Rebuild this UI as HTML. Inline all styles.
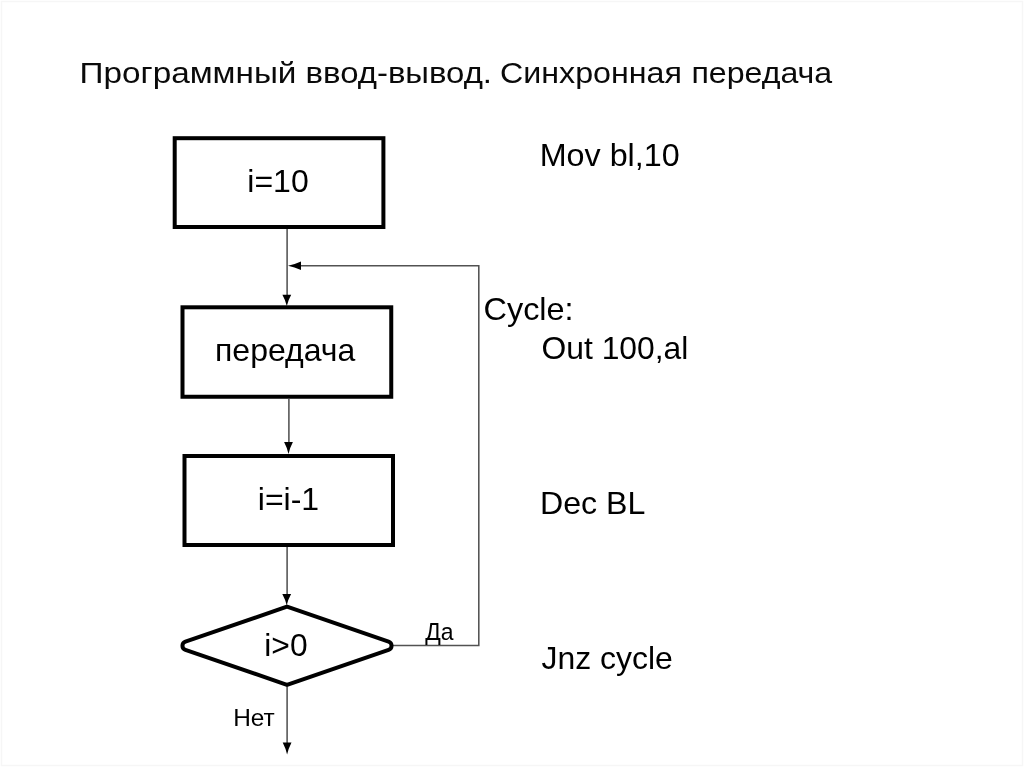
<!DOCTYPE html>
<html lang="ru">
<head>
<meta charset="utf-8">
<title>Программный ввод-вывод. Синхронная передача</title>
<style>
html,body{margin:0;padding:0;background:#fff;}
body{width:1024px;height:767px;overflow:hidden;position:relative;}
svg{position:absolute;left:0;top:0;display:block;will-change:transform;}
text{font-family:"Liberation Sans",sans-serif;fill:#000;}
.title{font-size:30.3px;fill:#0a0a0a;}
.code{font-size:31.4px;}
.lbl{font-size:24px;}
.blk{font-size:32px;}
.box{fill:#fff;stroke:#000;stroke-width:4;}
.thin{fill:none;stroke:#525252;stroke-width:1.55;}
.head{fill:#000;stroke:none;}
</style>
</head>
<body>
<svg width="1024" height="767" viewBox="0 0 1024 767">
  <rect x="0" y="0" width="1024" height="767" fill="#fff"/>
  <rect x="1.5" y="1.5" width="1021" height="764" fill="none" stroke="#f6f6f6" stroke-width="1.4"/>
  <!-- title -->
  <text class="title" y="82.6"><tspan x="79.5" textLength="217" lengthAdjust="spacingAndGlyphs">Программный</tspan> <tspan x="305.6" textLength="186.4" lengthAdjust="spacingAndGlyphs">ввод-вывод.</tspan> <tspan x="500" textLength="182" lengthAdjust="spacingAndGlyphs">Синхронная</tspan> <tspan x="691.4" textLength="140.8" lengthAdjust="spacingAndGlyphs">передача</tspan></text>

  <!-- connectors -->
  <path class="thin" d="M287.1 229 V300"/>
  <path class="thin" d="M288.9 399 V447"/>
  <path class="thin" d="M287.1 547 V599"/>
  <path class="thin" d="M287.1 686.5 V748"/>
  <path class="thin" d="M393 645.5 H478.8 V265.8 H296"/>
  <!-- arrow heads -->
  <path class="head" d="M286.8 306 Q285.50 300.40 282.40 294.8 L291.20 294.8 Q288.10 300.40 286.8 306 Z"/>
  <path class="head" d="M288.5 454 Q287.20 448.05 284.10 442.1 L292.90 442.1 Q289.80 448.05 288.5 454 Z"/>
  <path class="head" d="M286.7 605.3 Q285.40 599.65 282.30 594 L291.10 594 Q288.00 599.65 286.7 605.3 Z"/>
  <path class="head" d="M287.1 754.5 Q285.80 748.45 282.70 742.4 L291.50 742.4 Q288.40 748.45 287.1 754.5 Z"/>
  <path class="head" d="M288 265.8 Q294.50 264.50 301 261.50 L301 270.10 Q294.50 267.10 288 265.8 Z"/>

  <!-- boxes -->
  <rect class="box" x="174.7" y="138.2" width="208.7" height="88.8"/>
  <rect class="box" x="182.5" y="307.3" width="208.75" height="89.45"/>
  <rect class="box" x="184.5" y="456" width="208.5" height="89"/>
  <path class="box" d="M287.0 606.7 L388.58 641.59 A4.4 4.4 0 0 1 388.58 649.91 L287.0 684.8 L185.42 649.91 A4.4 4.4 0 0 1 185.42 641.59 Z"/>

  <!-- box labels -->
  <text class="blk" x="247.3" y="192">i=10</text>
  <text class="blk" x="215" y="361">передача</text>
  <text class="blk" x="257.8" y="509.5">i=i-1</text>
  <text class="blk" x="264.3" y="655.9" style="font-size:31.8px">i&gt;0</text>
  <text class="lbl" x="425.3" y="640.4" style="font-size:24.5px" textLength="28.3" lengthAdjust="spacingAndGlyphs">Да</text>
  <text class="lbl" x="233.2" y="725.8" style="font-size:23.4px" textLength="41.6" lengthAdjust="spacingAndGlyphs">Нет</text>

  <!-- assembler -->
  <text class="code" x="539.7" y="166.3" textLength="140" lengthAdjust="spacingAndGlyphs">Mov bl,10</text>
  <text class="code" x="483.5" y="320.1" textLength="90.1" lengthAdjust="spacingAndGlyphs">Cycle:</text>
  <text class="code" x="541.5" y="358.9" textLength="146.9" lengthAdjust="spacingAndGlyphs">Out 100,al</text>
  <text class="code" x="540" y="514.1" textLength="105.4" lengthAdjust="spacingAndGlyphs">Dec BL</text>
  <text class="code" x="541.5" y="668.8" textLength="131.3" lengthAdjust="spacingAndGlyphs">Jnz cycle</text>
</svg>
</body>
</html>
